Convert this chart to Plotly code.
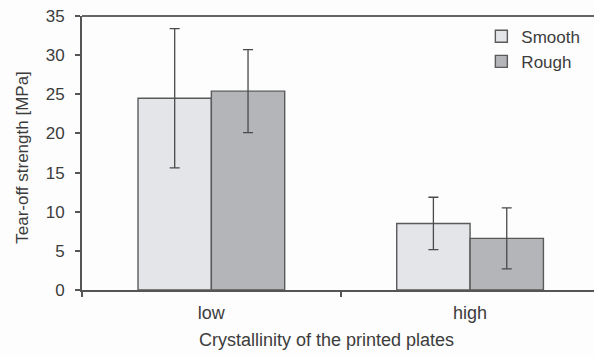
import plotly.graph_objects as go

# Tear-off strength by crystallinity and surface finish
categories = ["low", "high"]
smooth_mean = [24.5, 8.5]
smooth_err = [8.9, 3.35]
rough_mean = [25.4, 6.6]
rough_err = [5.3, 3.9]
y_ticks = [0, 5, 10, 15, 20, 25, 30, 35]

text_color = "#3c3c3c"
axis_color = "#555555"

fig = go.Figure()
fig.add_trace(go.Bar(
    name="Smooth", x=categories, y=smooth_mean,
    marker=dict(color="#e4e5e9", line=dict(color="#5a5a5a", width=1.4)),
    error_y=dict(type="data", array=smooth_err, color="#4a4a4a", thickness=1.3, width=5),
))
fig.add_trace(go.Bar(
    name="Rough", x=categories, y=rough_mean,
    marker=dict(color="#b4b5b9", line=dict(color="#5a5a5a", width=1.4)),
    error_y=dict(type="data", array=rough_err, color="#4a4a4a", thickness=1.3, width=5),
))

fig.update_layout(
    width=594, height=356,
    margin=dict(l=82, r=0, t=16, b=66),
    paper_bgcolor="#fdfdfd", plot_bgcolor="#fdfdfd",
    barmode="group", bargap=0.433, bargroupgap=0,
    font=dict(family="Liberation Sans, Arial, sans-serif", size=17, color=text_color),
    showlegend=True,
    legend=dict(x=0.78, y=0.99, xanchor="left", yanchor="top",
                bgcolor="rgba(0,0,0,0)", font=dict(size=17, color=text_color),
                itemwidth=30, tracegroupgap=0),
    xaxis=dict(
        type="category", range=[-0.5, 1.479],
        showline=True, linecolor=axis_color, linewidth=2,
        ticks="outside", tickson="boundaries", ticklen=5, tickwidth=1.5, tickcolor=axis_color,
        tickfont=dict(size=18, color=text_color), ticklabelstandoff=5,
        showgrid=False, zeroline=False,
    ),
    yaxis=dict(
        range=[0, 35], tickvals=y_ticks,
        showline=True, linecolor=axis_color, linewidth=2,
        ticks="outside", ticklen=5, tickwidth=1.5, tickcolor=axis_color,
        tickfont=dict(size=17, color=text_color), ticklabelstandoff=7,
        showgrid=False, zeroline=False,
    ),
    shapes=[dict(type="line", xref="paper", yref="paper", x0=0, x1=1, y0=1, y1=1,
                 line=dict(color="#666666", width=2))],
    annotations=[
        dict(text="Crystallinity of the printed plates", xref="paper", yref="paper",
             x=0.4766, y=-0.184, xanchor="center", yanchor="middle",
             showarrow=False, font=dict(size=18, color=text_color)),
        dict(text="Tear-off strength [MPa]", xref="paper", yref="paper",
             x=-0.115, y=0.483, xanchor="center", yanchor="middle", textangle=-90,
             showarrow=False, font=dict(size=17, color=text_color)),
    ],
)

fig.write_html("out.html")
